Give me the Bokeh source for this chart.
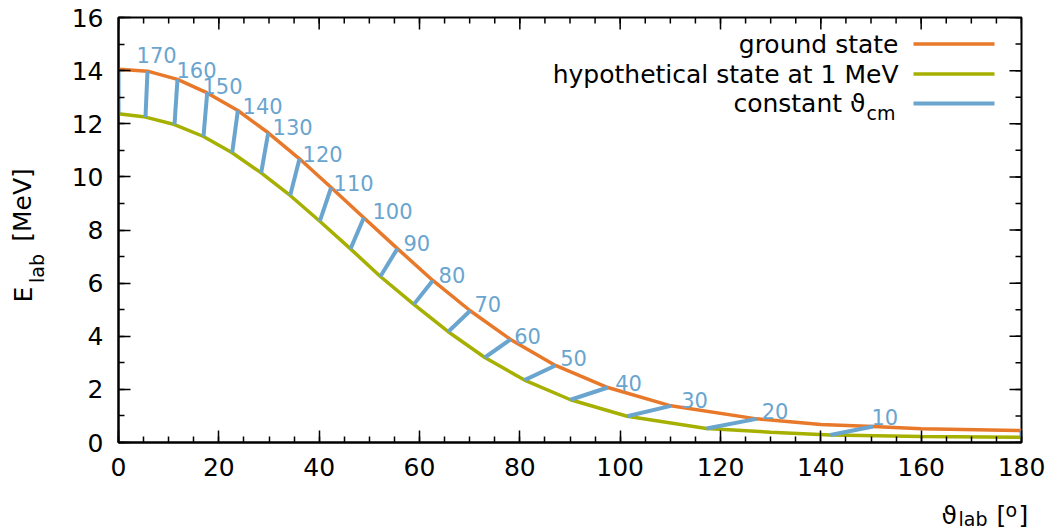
import numpy as np
from bokeh.plotting import figure
from bokeh.layouts import row, column
from bokeh.models import Range1d, FixedTicker, Label, ColumnDataSource
from bokeh.core.properties import value
from bokeh.embed import file_html
from bokeh.resources import INLINE

# ---------------- data ----------------
theta_cm = [180, 170, 160, 150, 140, 130, 120, 110, 100, 90, 80, 70, 60, 50, 40, 30, 20, 10, 0]
# endpoints on the ground state curve
gs_x = [0, 5.78, 11.76, 17.68, 23.79, 29.84, 36.08, 42.39, 48.9, 55.6, 62.65, 70.1, 78.14, 87.1, 97.54, 110.1, 127.2, 150.4, 180]
gs_y = [14.05, 13.98, 13.67, 13.16, 12.50, 11.66, 10.68, 9.60, 8.46, 7.30, 6.10, 4.96, 3.88, 2.90, 2.07, 1.38, 0.89, 0.60, 0.45]
# endpoints on the hypothetical 1 MeV state curve
ex_x = [0, 5.38, 11.16, 16.94, 22.66, 28.44, 34.22, 40.13, 46.25, 52.2, 58.87, 65.72, 73.02, 80.93, 90.1, 101.4, 117.2, 141.9, 180]
ex_y = [12.38, 12.25, 11.97, 11.52, 10.91, 10.15, 9.30, 8.33, 7.29, 6.25, 5.20, 4.17, 3.20, 2.35, 1.61, 0.99, 0.53, 0.28, 0.20]

# curves (extra points read between the endpoints)
ground_x = [0, 5.78, 11.76, 17.68, 23.79, 29.84, 36.08, 42.39, 48.9, 55.6, 62.65, 70.1, 78.14, 87.1, 97.54, 110.1, 127.2, 140, 150.4, 160, 180]
ground_y = [14.05, 13.98, 13.67, 13.16, 12.50, 11.66, 10.68, 9.60, 8.46, 7.30, 6.10, 4.96, 3.88, 2.90, 2.07, 1.38, 0.89, 0.68, 0.60, 0.52, 0.45]
excited_x = [0, 5.38, 11.16, 16.94, 22.66, 28.44, 34.22, 40.13, 46.25, 52.2, 58.87, 65.72, 73.02, 80.93, 90.1, 101.4, 117.2, 130, 141.9, 160, 180]
excited_y = [12.38, 12.25, 11.97, 11.52, 10.91, 10.15, 9.30, 8.33, 7.29, 6.25, 5.20, 4.17, 3.20, 2.35, 1.61, 0.99, 0.53, 0.39, 0.28, 0.23, 0.20]

# labels of the constant theta_cm lines
label_text = ["170", "160", "150", "140", "130", "120", "110", "100", "90", "80", "70", "60", "50", "40", "30", "20", "10"]
label_x = [3.99, 11.96, 17.14, 25.12, 31.1, 37.08, 43.26, 51.03, 57.2, 64.19, 71.36, 79.27, 88.44, 99.41, 112.56, 128.6, 150.5]
label_y = [14.38, 13.78, 13.19, 12.44, 11.64, 10.62, 9.56, 8.48, 7.27, 6.07, 4.97, 3.78, 2.97, 2.0, 1.39, 0.95, 0.73]

x_ticks = [0, 20, 40, 60, 80, 100, 120, 140, 160, 180]
y_ticks = [0, 2, 4, 6, 8, 10, 12, 14, 16]
x_minor = list(range(0, 181, 5))
y_minor = list(range(0, 17, 1))

legend_names = ["ground state", "hypothetical state at 1 MeV", "constant \u03d1"]

# ---------------- style ----------------
ORANGE = "#e8782a"
GREEN = "#a6b000"
BLUE = "#6aa5cf"
FONT = "DejaVu Sans"
FS = "25px"
FS_SMALL = "19px"
BFIX = 6            # px correction for the alphabetic baseline as rendered

PAGE_W, PAGE_H = 1057, 529
YL_W = 50            # strip for the y-axis title
XL_H = 29            # strip for the x-axis title
W, H = PAGE_W - YL_W, PAGE_H - XL_H
# frame edges in page px
PFL, PFR, PFT, PFB = 118, 1021, 17, 442

p = figure(width=W, height=H, x_range=Range1d(0, 180), y_range=Range1d(0, 16),
           output_backend="svg", toolbar_location=None,
           min_border_left=PFL - YL_W, min_border_right=PAGE_W - PFR,
           min_border_top=PFT, min_border_bottom=H - PFB)
p.xgrid.visible = False
p.ygrid.visible = False
p.outline_line_color = "black"
p.outline_line_width = 2
p.background_fill_color = "white"
p.border_fill_color = "white"

XS = (PFR - PFL) / 180.0   # px per degree
YS = (PFB - PFT) / 16.0    # px per MeV

# page px -> data helpers for annotation placement
def dx(px):
    return (px - PFL) / XS

def dy(py):
    return (PFB - py) / YS

def style_axis(ax, ticks, minor):
    ax.ticker = FixedTicker(ticks=ticks, minor_ticks=minor)
    ax.axis_line_color = "black"
    ax.axis_line_width = 2
    ax.major_tick_in = 12
    ax.major_tick_out = 0
    ax.minor_tick_in = 6
    ax.minor_tick_out = 0
    ax.major_tick_line_width = 1.5
    ax.minor_tick_line_width = 1.5
    ax.major_tick_line_color = "black"
    ax.minor_tick_line_color = "black"
    ax.major_label_text_font = FONT
    ax.major_label_text_font_size = FS
    ax.major_label_text_color = "black"

style_axis(p.xaxis[0], x_ticks, x_minor)
style_axis(p.yaxis[0], y_ticks, y_minor)
p.xaxis[0].major_label_standoff = 15
p.yaxis[0].major_label_standoff = 15

# mirrored ticks on the top and right edges (gnuplot style)
p.segment(x0=x_ticks, y0=[16] * len(x_ticks), x1=x_ticks, y1=[16 - 12 / YS] * len(x_ticks),
          line_color="black", line_width=1.5)
p.segment(x0=x_minor, y0=[16] * len(x_minor), x1=x_minor, y1=[16 - 6 / YS] * len(x_minor),
          line_color="black", line_width=1.5)
p.segment(x0=[180] * len(y_ticks), y0=y_ticks, x1=[180 - 12 / XS] * len(y_ticks), y1=y_ticks,
          line_color="black", line_width=1.5)
p.segment(x0=[180] * len(y_minor), y0=y_minor, x1=[180 - 6 / XS] * len(y_minor), y1=y_minor,
          line_color="black", line_width=1.5)

# curves
p.line(ground_x, ground_y, line_color=ORANGE, line_width=3.5)
p.line(excited_x, excited_y, line_color=GREEN, line_width=3.5)

# constant theta_cm lines
p.segment(x0=ex_x, y0=ex_y, x1=gs_x, y1=gs_y, line_color=BLUE, line_width=4)

src = ColumnDataSource(dict(x=label_x, y=[v + BFIX / YS for v in label_y], t=label_text))
p.text(x="x", y="y", text="t", source=src, text_color=BLUE, text_font=value(FONT),
       text_font_size="21px", text_align="left", text_baseline="alphabetic", x_offset=-2)

# legend (gnuplot style: text then sample line)
rows_py = [43.5, 73.5, 103.0]
line_colors = [ORANGE, GREEN, BLUE]
line_widths = [3.5, 3.5, 4]
for i, name in enumerate(legend_names):
    ypx = rows_py[i]
    p.line([dx(913), dx(994)], [dy(ypx), dy(ypx)], line_color=line_colors[i], line_width=line_widths[i])
    right_px = 898 if i < 2 else 865
    p.add_layout(Label(x=dx(right_px), y=dy(ypx), text=name, text_align="right",
                       text_baseline="middle", text_font=FONT, text_font_size=FS,
                       text_color="black"))
p.add_layout(Label(x=dx(866), y=dy(118 - BFIX), text="cm", text_align="left",
                   text_baseline="alphabetic", text_font=FONT, text_font_size=FS_SMALL,
                   text_color="black"))


def blank_fig(w, h, top=0, bottom=0):
    # frame spans page rows [top, h-bottom]; data y = h - page_y
    f = figure(width=w, height=h, x_range=Range1d(0, w), y_range=Range1d(bottom, h - top),
               x_axis_type=None, y_axis_type=None, output_backend="svg", toolbar_location=None,
               min_border=0, min_border_left=0, min_border_right=0,
               min_border_top=top, min_border_bottom=bottom)
    f.outline_line_color = None
    f.xgrid.visible = False
    f.ygrid.visible = False
    f.background_fill_color = "white"
    f.border_fill_color = "white"
    return f

# ---- y-axis title strip: E_lab [MeV] (rotated), centred pieces, page coords
# (its frame is aligned with the main frame rows by the row layout)
yl = blank_fig(YL_W, H, top=PFT, bottom=H - PFB)
ang = np.pi / 2
yl.text(x=[22.5], y=[H - 294], text=["E"], angle=ang, text_align="center", text_baseline="middle",
        text_font=value(FONT), text_font_size=FS, text_color="black")
yl.text(x=[36], y=[H - 268], text=["lab"], angle=ang, text_align="center", text_baseline="middle",
        text_font=value(FONT), text_font_size=FS_SMALL, text_color="black")
yl.text(x=[21.5], y=[H - 204.5], text=["[MeV]"], angle=ang, text_align="center", text_baseline="middle",
        text_font=value(FONT), text_font_size=FS, text_color="black")

# ---- x-axis title strip: theta_lab [o], page coords x in [0,1057], y in [500,529]
xl = blank_fig(PAGE_W, XL_H)
def ly(py):
    return PAGE_H - (py - BFIX)
xl.text(x=[941], y=[ly(521)], text=["\u03d1"], text_align="left", text_baseline="alphabetic",
        text_font=value(FONT), text_font_size=FS, text_color="black")
xl.text(x=[958], y=[ly(524.5)], text=["lab"], text_align="left", text_baseline="alphabetic",
        text_font=value(FONT), text_font_size=FS_SMALL, text_color="black")
xl.text(x=[996], y=[ly(521)], text=["["], text_align="left", text_baseline="alphabetic",
        text_font=value(FONT), text_font_size=FS, text_color="black")
xl.text(x=[1005], y=[ly(515)], text=["o"], text_align="left", text_baseline="alphabetic",
        text_font=value(FONT), text_font_size=FS_SMALL, text_color="black")
xl.text(x=[1018], y=[ly(521)], text=["]"], text_align="left", text_baseline="alphabetic",
        text_font=value(FONT), text_font_size=FS, text_color="black")

layout = column(row(yl, p, spacing=0), xl, spacing=0)

open("out.html", "w").write(file_html(layout, INLINE))
